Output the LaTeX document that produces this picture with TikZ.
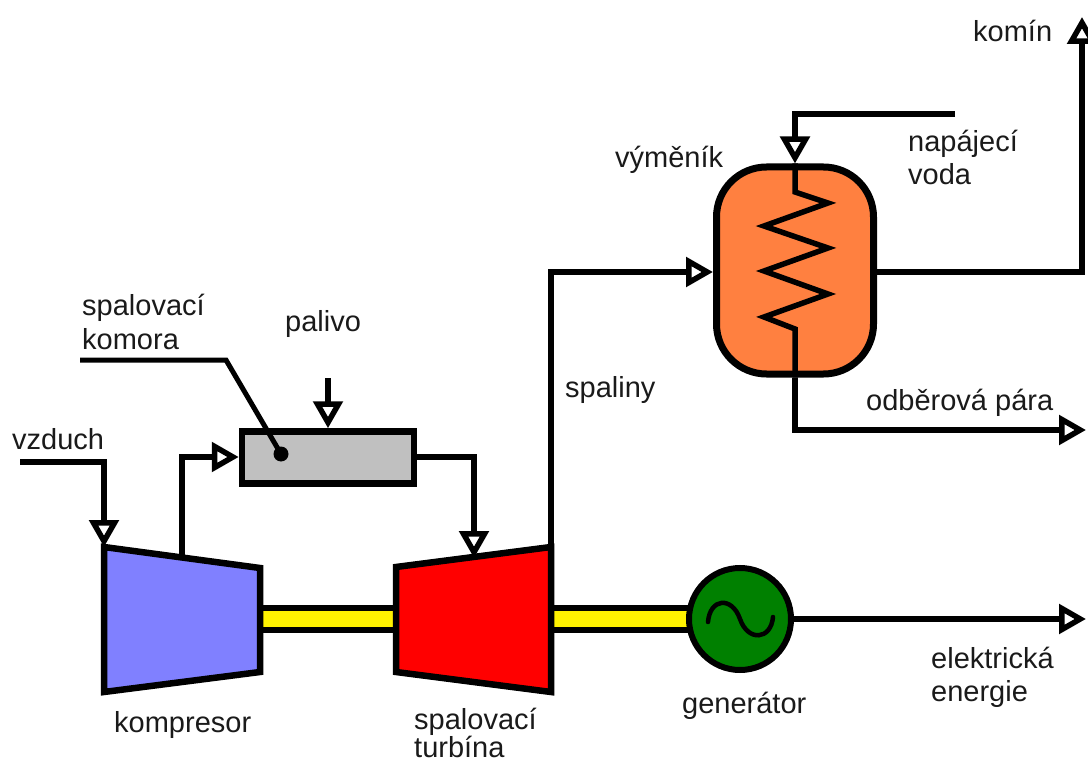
\documentclass[tikz,border=0pt]{standalone}
\usepackage{fontspec}
\setmainfont{Liberation Sans}
\usetikzlibrary{arrows.meta,calc}
\definecolor{komp}{HTML}{8080FF}
\definecolor{vym}{HTML}{FF8040}
\definecolor{gen}{HTML}{008000}
\definecolor{komora}{HTML}{C0C0C0}
\definecolor{txt}{HTML}{1A1A1A}
\tikzset{
  pipe/.style={draw=black,line width=6.5pt,line join=miter},
  flow/.style={pipe,-{Triangle[open,fill=white,length=27pt,width=29pt,line width=5.5pt]}},
  part/.style={draw=black,line width=6.5pt,line join=miter},
  lbl/.style={anchor=base west,inner sep=0pt,text=txt,font=\fontsize{29}{33}\selectfont,align=left},
  shaft/.style={draw=black,line width=6pt,fill=yellow},
}
\begin{document}
\begin{tikzpicture}[x=1pt,y=-1pt]
\useasboundingbox (0,0) rectangle (1088,762);
\coordinate (kA) at (104,547); \coordinate (kB) at (260,568); \coordinate (kC) at (260,672); \coordinate (kD) at (104,692);
\coordinate (tA) at (396,567); \coordinate (tB) at (551,547); \coordinate (tC) at (551,692); \coordinate (tD) at (396,672);
\coordinate (kout) at (182,557);
\coordinate (tin) at (474,558);
\path[shaft] (260,608) rectangle (396,630);
\path[shaft] (551,608) rectangle (692,630);
\draw[part,fill=komp] (kA)--(kB)--(kC)--(kD)--cycle;
\draw[part,fill=red] (tA)--(tB)--(tC)--(tD)--cycle;
\node[circle,draw=black,line width=6pt,fill=gen,minimum size=102pt,inner sep=0pt] (g) at (740,619) {};
\draw[line width=4.5pt,line cap=round,black] (708,622) .. controls (710,598) and (732,596) .. (740,619) .. controls (748,642) and (771,640) .. (773,617);
\node[draw=black,line width=6.5pt,fill=komora,minimum width=172pt,minimum height=52pt,inner sep=0pt] (cc) at (328,457.5) {};
\node[draw=black,line width=7pt,fill=vym,rounded corners=50pt,minimum width=157pt,minimum height=207pt,inner sep=0pt] (hx) at (795,270.5) {};
\coordinate (vzS) at (20,462);
\coordinate (palS) at (328,378);
\coordinate (kkS) at (80,360);
\coordinate (kk1) at (226,360);
\node[circle,fill=black,inner sep=0pt,minimum size=15pt] (dot) at (281,454) {};
\coordinate (watS) at (955,114);
\coordinate (stE) at (1086,430);
\coordinate (elE) at (1086,619);
\coordinate (chE) at (1082,17);
\draw[flow] (vzS) -- (104,462) -- (kA);
\draw[flow] (kout) -- (182,457) -- (cc.west|-0,457);
\draw[flow] (palS) -- (cc.north);
\draw[flow] (cc.east|-0,457) -- (474,457) -- (tin);
\draw[flow] (tB) -- (551,272) -- (hx.west|-0,272);
\draw[flow] (watS) -- (795,114) -- (hx.north);
\draw[flow] (hx.east|-0,272) -- (1082,272) -- (chE);
\draw[flow] (hx.south) -- (795,430) -- (stE);
\draw[flow] (g.east) -- (elE);
\draw[pipe,line width=5pt] (kkS) -- (kk1) -- (dot.center);
\draw[pipe,line width=5.5pt] (hx.north) -- (795,192) -- (828,203) -- (764,226) -- (828,248) -- (764,271) -- (828,294) -- (764,317) -- (795,329) -- (hx.south);
\node[lbl] (t1) at (973,42) {komín};
\node[lbl] (t2) at (908,152) {napájecí};
\node[lbl] (t2b) at (908,185) {voda};
\node[lbl] (t3) at (615,168) {výměník};
\node[lbl] (t4) at (82,316) {spalovací};
\node[lbl] (t4b) at (82,349) {komora};
\node[lbl] (t5) at (285,331) {palivo};
\node[lbl] (t6) at (565,397) {spaliny};
\node[lbl] (t7) at (866,410) {odběrová pára};
\node[lbl] (t8) at (12,449) {vzduch};
\node[lbl] (t9) at (114,732) {kompresor};
\node[lbl] (t10) at (414,729) {spalovací};
\node[lbl] (t10b) at (414,757) {turbína};
\node[lbl] (t11) at (682,713) {generátor};
\node[lbl] (t12) at (931,668) {elektrická};
\node[lbl] (t12b) at (931,701) {energie};
\end{tikzpicture}
\end{document}
